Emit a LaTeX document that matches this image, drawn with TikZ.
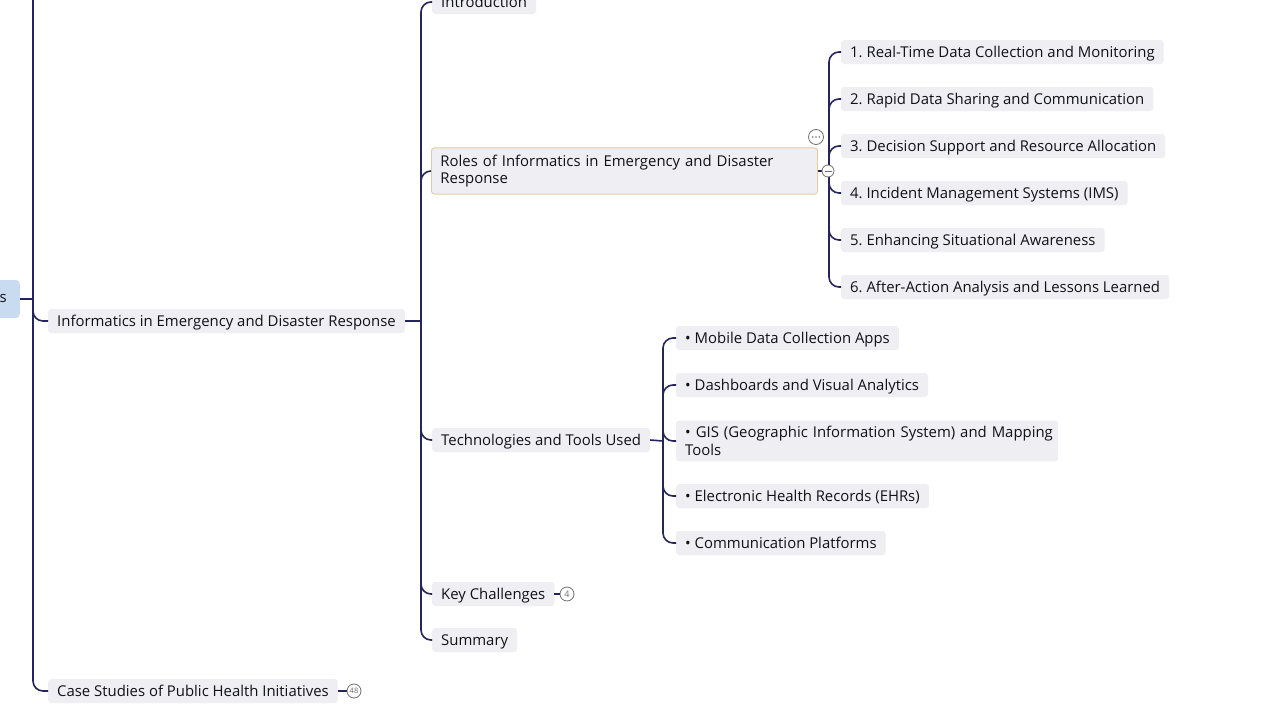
\documentclass[tikz,border=0pt]{standalone}
\usepackage{fontspec}
\setmainfont{Open Sans}
\frenchspacing
\definecolor{linec}{HTML}{25255E}
\definecolor{boxc}{HTML}{EEEEF3}
\definecolor{rootc}{HTML}{C9DBF0}
\definecolor{tanc}{HTML}{E3CCA4}
\definecolor{txtc}{HTML}{111118}
\definecolor{iconc}{HTML}{707070}
\newcommand{\tfont}{\fontsize{14.9}{17.3}\selectfont\frenchspacing\hyphenpenalty=10000\exhyphenpenalty=10000}
\tikzset{
  x=1pt, y=-1pt,
  topicbase/.style={fill=boxc, rounded corners=3pt, inner xsep=9pt, inner ysep=4pt,
    minimum height=24pt, anchor=west, text=txtc, font=\tfont},
  topic/.style={topicbase, text height=13pt, text depth=2pt},
  wide/.style={topicbase, align=left, inner ysep=7pt},
  rootbox/.style={fill=rootc, rounded corners=4pt, inner xsep=13pt, minimum height=38pt,
    anchor=east, text=txtc, font=\tfont},
  conn/.style={draw=linec, line width=1.6pt, rounded corners=10pt},
  stub/.style={draw=linec, line width=1.6pt},
  badge/.style={circle, draw=iconc, fill=white, line width=0.8pt, inner sep=0pt,
    minimum size=14pt, text=iconc, font=\fontsize{9}{9}\selectfont},
}
\begin{document}
\begin{tikzpicture}
\useasboundingbox (0,0) rectangle (1280,720);
\clip (0,0) rectangle (1280,720);
\fill[white] (0,0) rectangle (1280,720);

% root (cut off at the left edge)
\node[rootbox] (root) at (20,299) {\hspace*{40pt}s};

% level 1
\node[topic] (inf) at (48,321) {Informatics in Emergency and Disaster Response};
\node[topic] (case) at (48,691) {Case Studies of Public Health Initiatives};
\node[badge, font=\fontsize{7.5}{7.5}\selectfont] (caseb) at (354,691) {48};

% level 2
\node[topic] (intro) at (432,2) {Introduction};
\node[wide, draw=tanc, line width=0.9pt, text width=368pt] (roles) at (431,171)
  {\mbox{Roles of Informatics in Emergency and Disaster}\\Response};
\node[topic] (tech) at (432,440) {Technologies and Tools Used};
\node[topic] (key) at (432,594) {Key Challenges};
\node[badge] (keyb) at (567,594) {4};
\node[topic] (sum) at (432,640) {Summary};

% level 3: roles
\node[topic] (r1) at (841,52) {1. Real-Time Data Collection and Monitoring};
\node[topic] (r2) at (841,99) {2. Rapid Data Sharing and Communication};
\node[topic] (r3) at (841,146) {3. Decision Support and Resource Allocation};
\node[topic] (r4) at (841,193) {4. Incident Management Systems (IMS)};
\node[topic] (r5) at (841,240) {5. Enhancing Situational Awareness};
\node[topic] (r6) at (841,287) {6. After-Action Analysis and Lessons Learned};

% level 3: technologies
\node[topic] (t1) at (676,338) {• Mobile Data Collection Apps};
\node[topic] (t2) at (676,385) {• Dashboards and Visual Analytics};
\node[wide, text width=364pt, inner ysep=6pt] (t3) at (676,441)
  {\mbox{• GIS (Geographic Information System) and Mapping}\\Tools};
\node[topic] (t4) at (676,496) {• Electronic Health Records (EHRs)};
\node[topic] (t5) at (676,543) {• Communication Platforms};

% connectors level 0 -> 1
\coordinate (j0) at (33,299);
\coordinate (top0) at (33,-30);
\draw[stub] (root.east) -- (j0);
\draw[stub] (j0) -- (top0);
\draw[conn] (j0) |- (inf.west);
\draw[conn] (j0) |- (case.west);
\draw[stub] (case.east) -- (caseb.west);

% connectors level 1 -> 2
\coordinate (j1) at (421,321);
\draw[stub] (inf.east) -- (j1);
\foreach \n in {intro,roles,tech,key,sum} \draw[conn] (j1) |- (\n.west);
\draw[stub] (key.east) -- (keyb.west);

% connectors roles -> items
\coordinate (j2) at (829,171);
\draw[stub] (roles.east) -- (j2);
\foreach \n in {r1,r2,r3,r4,r5,r6} \draw[conn] (j2) |- (\n.west);

% connectors tech -> items
\coordinate (j3) at (663,441);
\draw[stub] (tech.east) -- (j3);
\foreach \n in {t1,t2,t3,t4,t5} \draw[conn] (j3) |- (\n.west);

% icons near roles
\node[circle, draw=iconc, fill=white, line width=0.8pt, minimum size=12pt, inner sep=0pt] (minus) at (828,171) {};
\draw[iconc, line width=0.8pt] ([xshift=-3.5pt]minus.center) -- ([xshift=3.5pt]minus.center);
\node[circle, draw=iconc, fill=white, line width=0.8pt, minimum size=15pt, inner sep=0pt] (more) at (816,137) {};
\foreach \dx in {-3.2,0,3.2} \fill[iconc] ([xshift=\dx pt]more.center) circle (0.9pt);
\end{tikzpicture}
\end{document}
